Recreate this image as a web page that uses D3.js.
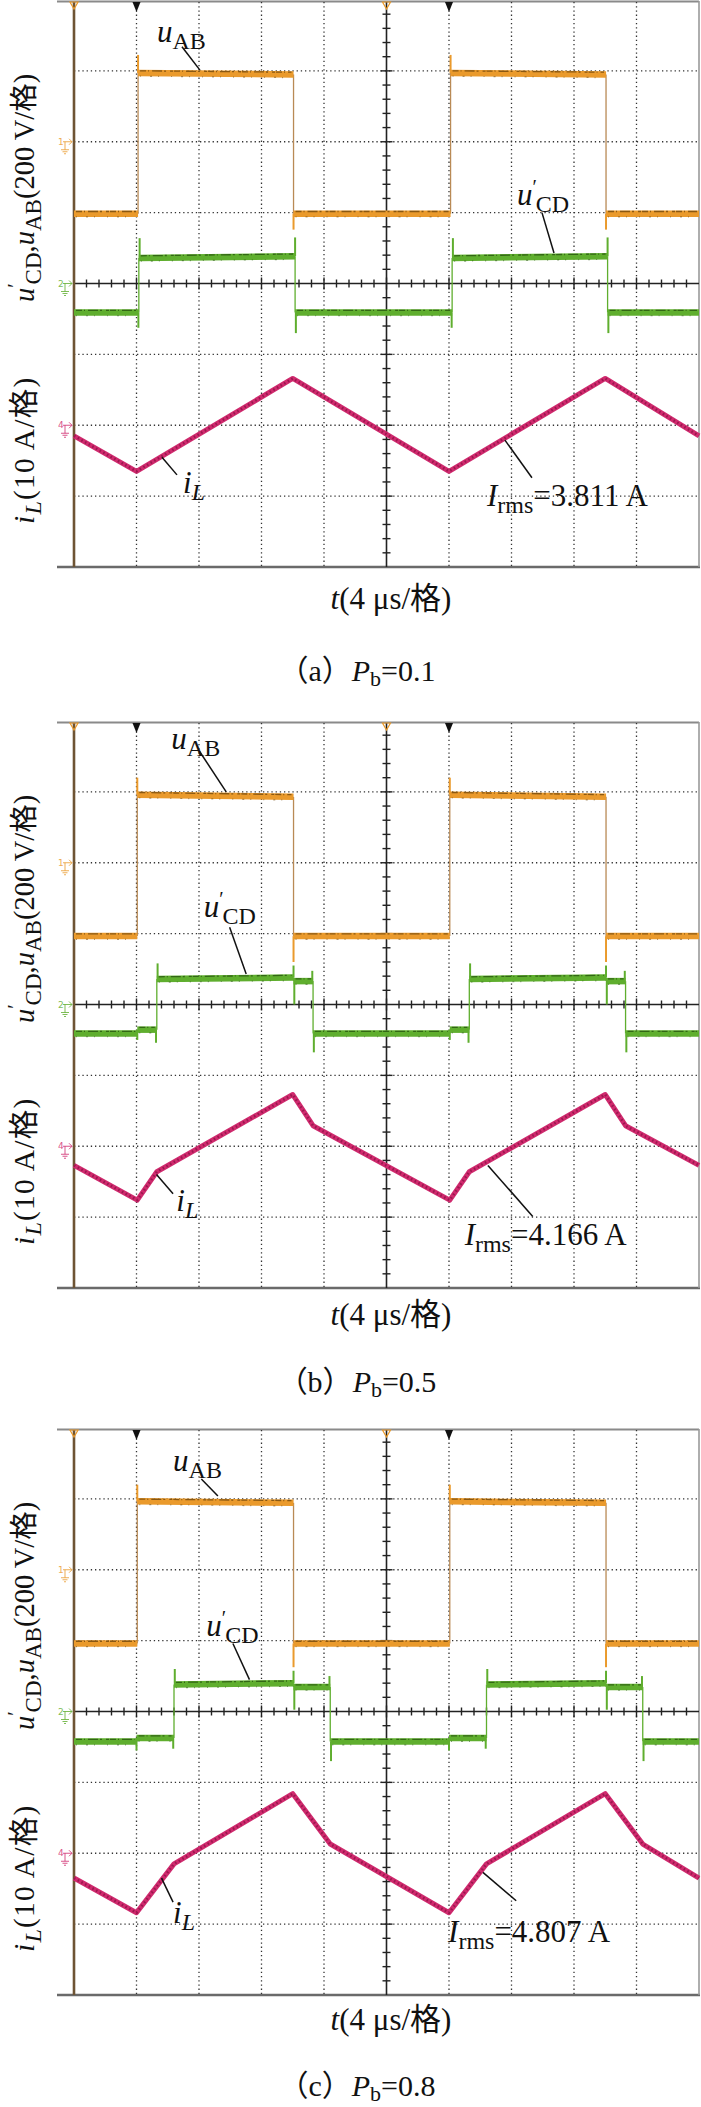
<!DOCTYPE html>
<html><head><meta charset="utf-8">
<script src="https://cdn.jsdelivr.net/npm/d3@7"></script>
<style>body{margin:0;background:#fff}svg{display:block}</style>
</head><body>
<svg id="c" width="701" height="2107"></svg>
<script>
// ---------------- DATA ----------------
const timeTicks = d3.range(0, 41, 4);          // µs, 4 µs per division
const divTicks = d3.range(-4, 5, 1);           // vertical divisions
const panelLetters = ["a", "b", "c"];
const pbValues = ["0.1", "0.5", "0.8"];
const irmsValues = ["3.811", "4.166", "4.807"];

// u_AB step segments [tStart, tEnd, vStart, vEnd] (V, 200 V/div)
const uAB_a = [[0,4.1,-203,-203],[4.1,14.05,194,190],[14.05,24.1,-203,-203],[24.1,34.05,194,190],[34.05,40,-203,-203]];
const uAB_b = [[0,4.05,-207,-207],[4.05,14.05,192,186],[14.05,24.05,-207,-207],[24.05,34.05,192,186],[34.05,40,-207,-207]];
const uAB_c = [[0,4.05,-208,-208],[4.05,14.05,193,189],[14.05,24.05,-208,-208],[24.05,34.05,193,189],[34.05,40,-208,-208]];
// u_AB switching spikes [t, vFrom, vTo]
const uABspk_a = [[4.1,194,245],[14.05,-203,-248],[24.1,194,245],[34.05,-203,-248]];
const uABspk_b = [[4.05,192,240],[14.05,-207,-280],[24.05,192,240],[34.05,-207,-280]];
const uABspk_c = [[4.05,193,240],[14.05,-208,-275],[24.05,193,240],[34.05,-208,-275]];

// u'_CD step segments
const uCD_a = [[0,4.15,-82,-82],[4.15,14.15,72,77],[14.15,24.2,-82,-82],[24.2,34.15,72,77],[34.15,40,-82,-82]];
const uCD_b = [[0,4.05,-82,-82],[4.05,5.3,-71,-71],[5.3,14.05,72,76],[14.05,15.3,66,66],[15.3,24.05,-82,-82],[24.05,25.3,-71,-71],[25.3,34.05,72,76],[34.05,35.3,66,66],[35.3,40,-82,-82]];
const uCD_c = [[0,4.0,-85,-85],[4.0,6.4,-75,-75],[6.4,14.05,76,80],[14.05,16.4,69,69],[16.4,24.0,-85,-85],[24.0,26.4,-75,-75],[26.4,34.05,76,80],[34.05,36.4,69,69],[36.4,40,-85,-85]];
const uCDspk_a = [[4.12,-82,-125],[4.2,72,128],[14.15,77,130],[14.2,-82,-140],[24.17,-82,-125],[24.25,72,128],[34.15,77,130],[34.2,-82,-140]];
const uCDspk_b = [[4.05,-71,-100],[5.25,-71,-108],[5.35,72,116],[14.05,76,110],[14.1,66,0],[15.25,66,95],[15.35,-82,-135],
                  [24.05,-71,-100],[25.25,-71,-108],[25.35,72,116],[34.05,76,110],[34.1,66,0],[35.25,66,95],[35.35,-82,-135]];
const uCDspk_c = [[4.0,-75,-110],[6.35,-75,-105],[6.45,76,120],[14.05,80,115],[14.1,69,5],[16.35,69,100],[16.45,-85,-140],
                  [24.0,-75,-110],[26.35,-75,-105],[26.45,76,120],[34.05,80,115],[34.1,69,5],[36.35,69,100],[36.45,-85,-140]];

// i_L vertices [t µs, A] (10 A/div)
const iL_a = [[0,-1.5],[4.0,-6.5],[14.0,6.6],[24.0,-6.5],[34.0,6.6],[40,-1.5]];
const iL_b = [[0,-2.7],[4.05,-7.6],[5.3,-3.6],[14.0,7.3],[15.3,2.9],[24.05,-7.6],[25.3,-3.6],[34.0,7.3],[35.3,2.9],[40,-2.7]];
const iL_c = [[0,-3.5],[4.0,-8.4],[6.4,-1.5],[14.0,8.4],[16.4,1.3],[24.0,-8.4],[26.4,-1.5],[34.0,8.4],[36.4,1.3],[40,-3.5]];

// annotation anchors in (t µs, div): text position, leader start, leader end
const annUAB = [[[5.31,3.41],[6.91,3.34],[8.06,3.01]], [[6.23,3.60],[8.04,3.57],[9.74,3.0]], [[6.34,3.39],[8.15,3.28],[9.21,3.04]]];
const annUCD = [[[28.35,1.11],[29.95,1.0],[30.72,0.43]], [[8.3,1.23],[9.96,1.09],[11.02,0.43]], [[8.47,1.07],[10.17,0.96],[11.23,0.45]]];
const annIL  = [[[6.98,-2.95],[5.63,-2.45],[6.59,-2.70]], [[6.55,-2.91],[5.28,-2.40],[6.34,-2.67]], [[6.34,-2.99],[5.6,-2.35],[6.34,-2.69]]];
const annIrms= [[[26.43,-3.14],[27.58,-2.21],[29.31,-2.74]], [[25.0,-3.39],[26.49,-2.27],[29.36,-2.99]], [[23.94,-3.25],[26.17,-2.27],[28.3,-2.67]]];

// ---------------- LAYOUT / STYLE ----------------
const X0 = 74, X1 = 699, FRAME_L = 57;
const panelTops = [0, 721, 1428];
const PH = 567;
const tLabelBase = [609, 1325, 2030];
const captionBase = [681, 1392, 2096];
const SERIF = "'Liberation Serif','Times New Roman','Noto Sans CJK SC',serif";
const C_OR = "#EA9A2C", C_ORD = "#6a4208";
const C_GR = "#5FAE2E", C_GRD = "#24500c";
const C_MG = "#D02A6E", C_MGD = "#7a0c3a";

const allUAB = [uAB_a, uAB_b, uAB_c], allUABspk = [uABspk_a, uABspk_b, uABspk_c];
const allUCD = [uCD_a, uCD_b, uCD_c], allUCDspk = [uCDspk_a, uCDspk_b, uCDspk_c];
const allIL = [iL_a, iL_b, iL_c];

const svg = d3.select("#c");
const x = d3.scaleLinear().domain([0, 40]).range([X0, X1]);

function drawStep(g, segs, spikes, y, color, dark, trans) {
  for (let i = 1; i < segs.length; i++) {
    const t = segs[i][0];
    g.append("line").attr("x1", x(t)).attr("x2", x(t))
      .attr("y1", y(segs[i-1][3])).attr("y2", y(segs[i][2]))
      .attr("stroke", trans).attr("stroke-width", 1.3);
  }
  spikes.forEach(s => {
    g.append("line").attr("x1", x(s[0])).attr("x2", x(s[0]))
      .attr("y1", y(s[1])).attr("y2", y(s[2]))
      .attr("stroke", color).attr("stroke-width", 2);
  });
  segs.forEach(s => {
    g.append("line").attr("x1", x(s[0])).attr("x2", x(s[1]))
      .attr("y1", y(s[2])).attr("y2", y(s[3]))
      .attr("stroke", color).attr("stroke-width", 6.5);
    g.append("line").attr("x1", x(s[0]) + 2).attr("x2", x(s[1]) - 2)
      .attr("y1", y(s[2]) - 2.2).attr("y2", y(s[3]) - 2.2)
      .attr("stroke", dark).attr("stroke-width", 1.3).attr("opacity", 0.75)
      .attr("stroke-dasharray", "6 2 1 3 10 2 2 4 3 1");
    g.append("line").attr("x1", x(s[0]) + 2).attr("x2", x(s[1]) - 2)
      .attr("y1", y(s[2]) + 3.2).attr("y2", y(s[3]) + 3.2)
      .attr("stroke", dark).attr("stroke-width", 1.2).attr("opacity", 0.5)
      .attr("stroke-dasharray", "1 9 2 6 1 12");
  });
}

function chMarker(g, yy, num, color) {
  g.append("text").attr("x", 58).attr("y", yy + 3).attr("font-size", 9)
    .attr("font-family", "'DejaVu Sans',sans-serif").attr("fill", color).attr("opacity", 0.8).text(num);
  g.append("path").attr("d", `M63,${yy} L72,${yy} M69,${yy-3} L72,${yy} L69,${yy+3} M65,${yy} L65,${yy+8} M61,${yy+8} L69,${yy+8} M62.5,${yy+10} L67.5,${yy+10} M64,${yy+12} L66,${yy+12}`)
    .attr("stroke", color).attr("stroke-width", 1).attr("fill", "none").attr("opacity", 0.8);
}

panelLetters.forEach((letter, i) => {
  const top = panelTops[i], bot = top + PH;
  const g = svg.append("g");
  const yDiv = d3.scaleLinear().domain([-4, 4]).range([bot, top]);
  const y1 = d3.scaleLinear().domain([(-4 - 2) * 200, (4 - 2) * 200]).range([bot, top]); // ch1 ground at +2 div
  const y2 = d3.scaleLinear().domain([-4 * 200, 4 * 200]).range([bot, top]);             // ch2 ground at 0
  const y4 = d3.scaleLinear().domain([(-4 + 2) * 10, (4 + 2) * 10]).range([bot, top]);   // ch4 ground at -2 div
  const P = (p) => [x(p[0]), yDiv(p[1])];

  // frame
  g.append("line").attr("x1", FRAME_L).attr("x2", X1).attr("y1", top + 1.5).attr("y2", top + 1.5)
    .attr("stroke", "#8a8a8a").attr("stroke-width", 2);
  g.append("line").attr("x1", FRAME_L).attr("x2", X1 + 1).attr("y1", bot).attr("y2", bot)
    .attr("stroke", "#6a6a6a").attr("stroke-width", 2.5);
  g.append("line").attr("x1", X1).attr("x2", X1).attr("y1", top + 1).attr("y2", bot)
    .attr("stroke", "#9a9a9a").attr("stroke-width", 1.6);

  // dotted grid
  timeTicks.filter(t => t > 0 && t < 40 && t !== 20).forEach(t => {
    g.append("line").attr("x1", x(t)).attr("x2", x(t)).attr("y1", top + 2).attr("y2", bot)
      .attr("stroke", "#333").attr("stroke-width", 1.3).attr("stroke-dasharray", "1.3 2.9");
  });
  divTicks.filter(d => d > -4 && d < 4 && d !== 0).forEach(d => {
    g.append("line").attr("x1", X0).attr("x2", X1).attr("y1", yDiv(d)).attr("y2", yDiv(d))
      .attr("stroke", "#333").attr("stroke-width", 1.3).attr("stroke-dasharray", "1.3 2.9");
  });

  // center axes with minor ticks
  g.append("line").attr("x1", x(20)).attr("x2", x(20)).attr("y1", top + 2).attr("y2", bot)
    .attr("stroke", "#222").attr("stroke-width", 1.6);
  g.append("line").attr("x1", X0).attr("x2", X1).attr("y1", yDiv(0)).attr("y2", yDiv(0))
    .attr("stroke", "#222").attr("stroke-width", 1.6);
  d3.range(1, 50).forEach(k => {
    const t = k * 0.8, major = k % 5 === 0;
    g.append("line").attr("x1", x(t)).attr("x2", x(t))
      .attr("y1", yDiv(0) - (major ? 6 : 4)).attr("y2", yDiv(0) + (major ? 6 : 4))
      .attr("stroke", "#222").attr("stroke-width", 1.4);
  });
  d3.range(-19, 20).forEach(k => {
    if (k === 0) return;
    const d = k * 0.2, major = k % 5 === 0;
    g.append("line").attr("x1", x(20) - (major ? 6 : 4)).attr("x2", x(20) + (major ? 6 : 4))
      .attr("y1", yDiv(d)).attr("y2", yDiv(d))
      .attr("stroke", "#222").attr("stroke-width", 1.4);
  });

  // left screen edge
  g.append("line").attr("x1", X0).attr("x2", X0).attr("y1", top + 2).attr("y2", bot)
    .attr("stroke", "#6e5434").attr("stroke-width", 2.6);

  // top markers
  [4, 24].forEach(t => {
    g.append("path").attr("d", `M${x(t)-4},${top+2} L${x(t)+4},${top+2} L${x(t)},${top+12} Z`).attr("fill", "#111");
  });
  [0, 20].forEach(t => {
    g.append("path").attr("d", `M${x(t)-4},${top+2} L${x(t)+4},${top+2} L${x(t)},${top+9} Z`)
      .attr("fill", "none").attr("stroke", C_OR).attr("stroke-width", 1.2);
  });

  // channel ground markers
  chMarker(g, y1(0), "1", C_OR);
  chMarker(g, y2(0), "2", C_GR);
  chMarker(g, y4(0), "4", C_MG);

  // traces
  drawStep(g, allUAB[i], allUABspk[i], y1, C_OR, C_ORD, "#b98a55");
  drawStep(g, allUCD[i], allUCDspk[i], y2, C_GR, C_GRD, C_GR);

  const line = d3.line().x(d => x(d[0])).y(d => y4(d[1]));
  g.append("path").datum(allIL[i]).attr("d", line).attr("fill", "none")
    .attr("stroke", C_MG).attr("stroke-width", 5).attr("stroke-linejoin", "round");
  g.append("path").datum(allIL[i]).attr("d", line).attr("fill", "none")
    .attr("stroke", C_MGD).attr("stroke-width", 2.6).attr("opacity", 0.6)
    .attr("stroke-dasharray", "1.6 2.6");

  // annotations
  const leader = (a) => {
    const s = P(a[1]), e = P(a[2]);
    g.append("line").attr("x1", s[0]).attr("y1", s[1]).attr("x2", e[0]).attr("y2", e[1])
      .attr("stroke", "#111").attr("stroke-width", 1.5);
  };
  [annUAB[i], annUCD[i], annIL[i], annIrms[i]].forEach(leader);

  const txt = (pos) => g.append("text").attr("x", P(pos)[0]).attr("y", P(pos)[1])
    .attr("font-family", SERIF).attr("font-size", 31).attr("fill", "#111");

  let t1 = txt(annUAB[i][0]);
  t1.append("tspan").attr("font-style", "italic").text("u");
  t1.append("tspan").attr("font-size", 24).attr("dy", 7).text("AB");

  let t2 = txt(annUCD[i][0]);
  t2.append("tspan").attr("font-style", "italic").text("u");
  t2.append("tspan").attr("font-size", 20).attr("dy", -11).text("\u2032");
  t2.append("tspan").attr("font-size", 24).attr("dy", 18).attr("dx", -1).text("CD");

  let t3 = txt(annIL[i][0]);
  t3.append("tspan").attr("font-style", "italic").text("i");
  t3.append("tspan").attr("font-style", "italic").attr("font-size", 24).attr("dy", 7).text("L");

  let t4 = txt(annIrms[i][0]);
  t4.append("tspan").attr("font-style", "italic").text("I");
  t4.append("tspan").attr("font-size", 24).attr("dy", 7).text("rms");
  t4.append("tspan").attr("dy", -7).text("=" + irmsValues[i] + " A");

  // y-axis labels (rotated, reading bottom-to-top, start at lower end)
  const yl1 = g.append("text").attr("transform", `translate(34,${top + 302}) rotate(-90)`)
    .attr("text-anchor", "start").attr("font-family", SERIF).attr("font-size", 28.5).attr("fill", "#111");
  yl1.append("tspan").attr("font-style", "italic").text("u");
  yl1.append("tspan").attr("font-size", 20).attr("dy", -12).text("\u2032");
  yl1.append("tspan").attr("font-size", 23).attr("dy", 19).attr("dx", -1).text("CD");
  yl1.append("tspan").attr("dy", -7).text(",");
  yl1.append("tspan").attr("font-style", "italic").text("u");
  yl1.append("tspan").attr("font-size", 23).attr("dy", 7).text("AB");
  yl1.append("tspan").attr("dy", -7).text("(200 V/\u683c)");

  const yl2 = g.append("text").attr("transform", `translate(34,${top + 524}) rotate(-90)`)
    .attr("text-anchor", "start").attr("font-family", SERIF).attr("font-size", 29.5)
    .attr("letter-spacing", 1.2).attr("fill", "#111");
  yl2.append("tspan").attr("font-style", "italic").text("i");
  yl2.append("tspan").attr("font-style", "italic").attr("font-size", 24).attr("dy", 7).text("L");
  yl2.append("tspan").attr("dy", -7).text("(10 A/\u683c)");

  // x-axis label
  const xl = svg.append("text").attr("x", 391).attr("y", tLabelBase[i]).attr("text-anchor", "middle")
    .attr("font-family", SERIF).attr("font-size", 31).attr("fill", "#111");
  xl.append("tspan").attr("font-style", "italic").text("t");
  xl.append("tspan").text("(4 \u03bcs/\u683c)");

  // caption
  const cap = svg.append("text").attr("x", 357).attr("y", captionBase[i]).attr("text-anchor", "middle")
    .attr("font-family", SERIF).attr("font-size", 30).attr("fill", "#111");
  cap.append("tspan").text("\uff08" + letter + "\uff09");
  cap.append("tspan").attr("font-style", "italic").text("P");
  cap.append("tspan").attr("font-size", 22).attr("dy", 5).text("b");
  cap.append("tspan").attr("dy", -5).text("=" + pbValues[i]);
});
</script>
</body></html>
